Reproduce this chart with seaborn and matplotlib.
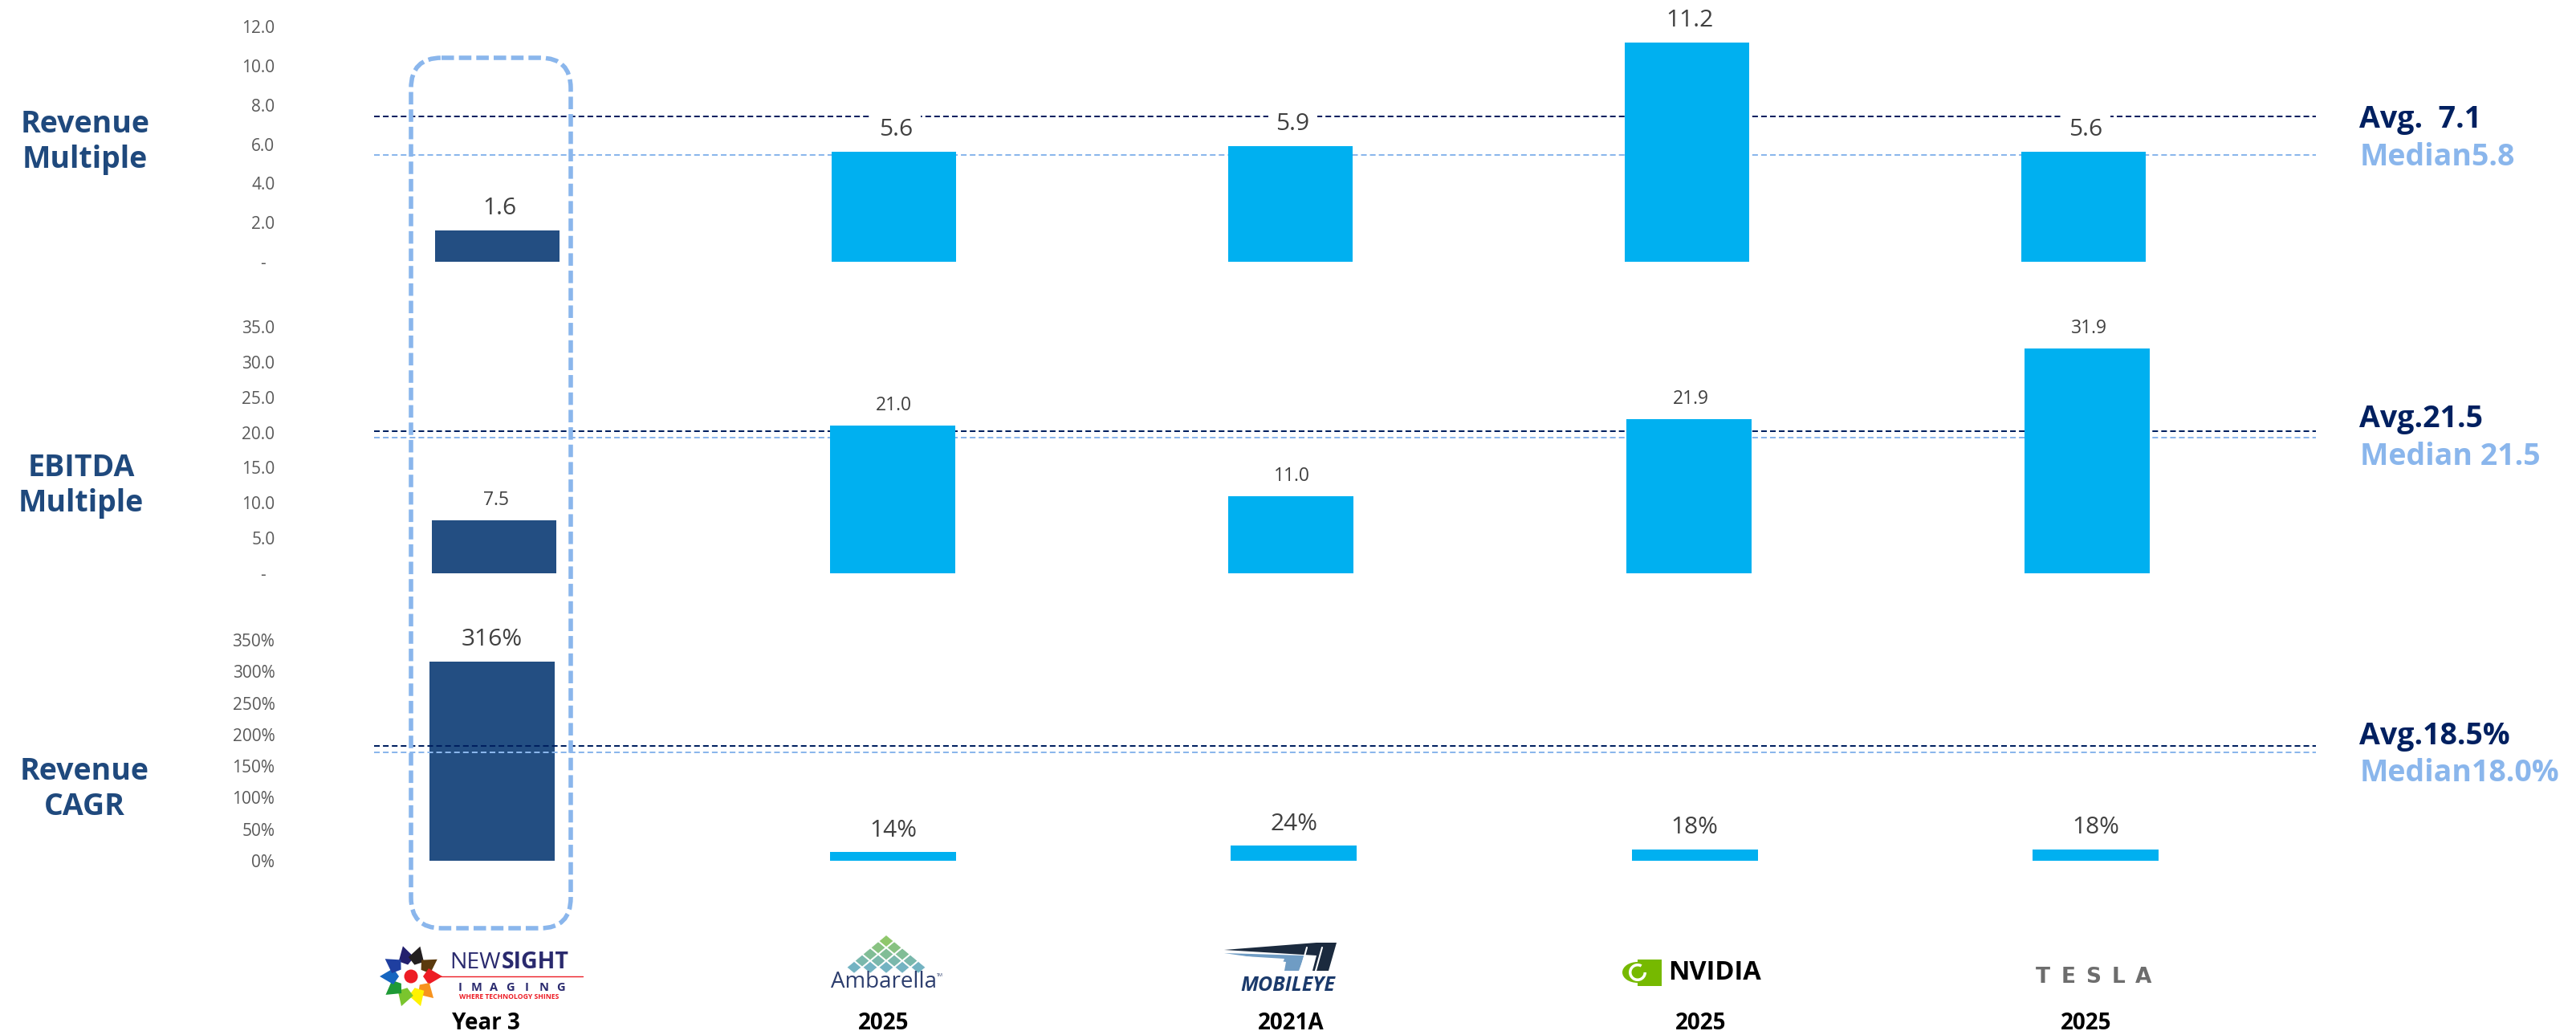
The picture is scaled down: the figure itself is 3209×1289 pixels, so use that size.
# comparables: multiples and growth, three stacked bar panels
import numpy as np
import pandas as pd
import matplotlib
matplotlib.use("Agg")
import matplotlib.pyplot as plt
from matplotlib.patches import FancyBboxPatch, Polygon, Circle, Ellipse, Wedge
import seaborn as sns

companies = ["Newsight", "Ambarella", "Mobileye", "NVIDIA", "Tesla"]
years = ["Year 3", "2025", "2021A", "2025", "2025"]

rev_multiple = [1.6, 5.6, 5.9, 11.2, 5.6]
ebitda_multiple = [7.5, 21.0, 11.0, 21.9, 31.9]
rev_cagr = [316, 14, 24, 18, 18]

rev_ticks = [0, 2, 4, 6, 8, 10, 12]
ebitda_ticks = [0, 5, 10, 15, 20, 25, 30, 35]
cagr_ticks = [0, 50, 100, 150, 200, 250, 300, 350]

# where the dashed lines sit on each axis
avg_lines = [7.4, 20.2, 182]
median_lines = [5.46, 19.3, 172]

row_names = ["Revenue\nMultiple", "EBITDA\nMultiple", "Revenue\nCAGR"]
avg_text = ["Avg.  7.1", "Avg.21.5", "Avg.18.5%"]
median_text = ["Median5.8", "Median 21.5", "Median18.0%"]

DARK = "#234E82"
BRIGHT = "#00B0F0"
NAVY = "#002060"
LIGHT = "#8AB6EC"
W, H = 3209, 1289
PT = 0.72  # px to pt at dpi 100

sns.set_theme(style="white")
plt.rcParams["font.family"] = ["Open Sans", "DejaVu Sans"]

fig = plt.figure(figsize=(W / 100, H / 100), dpi=100, facecolor="white")


def panel(values, ticks, ticklabels, labels, top, base, c0, step, line_i,
          lab_size, lab_off, lab_dx, lines_on_top=False, gap=()):
    L, R = 466, 2885
    ax = fig.add_axes([L / W, 1 - base / H, (R - L) / W, (base - top) / H])
    ax.patch.set_alpha(0)
    df = pd.DataFrame({"company": companies, "value": values})
    sns.barplot(data=df, x="company", y="value", hue="company", ax=ax,
                palette=[DARK] + [BRIGHT] * 4, width=0.314, saturation=1,
                linewidth=0, legend=False, dodge=False)
    # bars above the white label boxes, so a box never bites into a bar
    for p in ax.patches:
        p.set_zorder(5)
    ax.set_xlim((L - c0) / step, (R - c0) / step)
    ax.set_ylim(0, ticks[-1])
    ax.set_xlabel("")
    ax.set_ylabel("")
    ax.set_xticks([])
    ax.set_yticks(ticks)
    ax.set_yticklabels(ticklabels, fontsize=15, color="#595959")
    ax.tick_params(axis="y", length=0, pad=89)
    sns.despine(ax=ax, left=True, bottom=True)
    z = 6 if lines_on_top else 0.5
    ax.axhline(avg_lines[line_i], color=NAVY, lw=1.45, dashes=(3.5, 2), zorder=z)
    ax.axhline(median_lines[line_i], color=LIGHT, lw=1.45, dashes=(3.5, 2), zorder=z)
    for i, (v, s) in enumerate(zip(values, labels)):
        box = None
        if i in gap:
            box = dict(facecolor="white", edgecolor="none", pad=7)
        ax.annotate(s, (i, v), xytext=(lab_dx * PT, lab_off * PT),
                    textcoords="offset points", ha="center", va="center",
                    fontsize=lab_size, color="#404040", annotation_clip=False,
                    bbox=box, zorder=4)
    return ax


panel(rev_multiple, rev_ticks, ["-  "] + [f"{t:.1f}" for t in rev_ticks[1:]],
      [f"{v:.1f}" for v in rev_multiple], 33, 326, 619.5, 494, 0, 21.5, 27.5, 3,
      gap=(1, 2, 4))
panel(ebitda_multiple, ebitda_ticks, ["-  "] + [f"{t:.1f}" for t in ebitda_ticks[1:]],
      [f"{v:.1f}" for v in ebitda_multiple], 407, 714, 615.5, 496.2, 1, 16.5, 25, 2)
panel(rev_cagr, cagr_ticks, [f"{t}%" for t in cagr_ticks],
      [f"{v}%" for v in rev_cagr], 797, 1072, 613, 499.4, 2, 21.5, 27, 0,
      lines_on_top=True)

# overlay in picture pixels for the side text, the highlight box and the logos
ov = fig.add_axes([0, 0, 1, 1])
ov.set_xlim(0, W)
ov.set_ylim(H, 0)
ov.axis("off")

ov.add_patch(FancyBboxPatch((512, 72), 199, 1084, boxstyle="round,pad=0,rounding_size=38",
                            fill=False, edgecolor=LIGHT, lw=4,
                            linestyle=(0, (2.8, 1.1))))

for name, x, y in zip(row_names, [106, 101, 105], [177, 605, 983]):
    ov.text(x, y, name, ha="center", va="center", fontsize=27, fontweight="bold",
            color="#1F497D", linespacing=1.22)

for a, m, ya, ym in zip(avg_text, median_text, [149, 522, 917], [196, 569, 963]):
    ov.text(2939, ya, a, va="center", fontsize=27, fontweight="bold", color=NAVY)
    ov.text(2940, ym, m, va="center", fontsize=27, fontweight="bold", color=LIGHT)

for y, x in zip(years, [605, 1101, 1608, 2119, 2599]):
    ov.text(x, 1275, y, ha="center", va="center", fontsize=20, fontweight="bold", color="black")


def spaced(s, x0, x1, y, **kw):
    for ch, x in zip(s, np.linspace(x0, x1, len(s))):
        if ch != " ":
            ov.text(x, y, ch, ha="center", va="center", **kw)


# Newsight logo
sun_angles = [-105, -73, -33, 0, 44, 72, 108, 144, 180, 214]
sun_colors = ["#23206E", "#231F20", "#5B3A0E", "#ED1C24", "#F7931E",
              "#FFF200", "#7AC52E", "#1E9A35", "#1565C0", "#1F3FA0"]
for a, col in zip(sun_angles, sun_colors):
    t = np.deg2rad(a)
    d = np.array([np.cos(t), np.sin(t)])
    n = np.array([-d[1], d[0]])
    c = np.array([512, 1216])
    ov.add_patch(Polygon([c + 15 * d, c + 22 * d + 10 * n, c + 39 * d, c + 22 * d - 10 * n],
                         facecolor=col, edgecolor="none"))
ov.add_patch(Circle((512, 1216), 8.5, facecolor="#ED1C24", edgecolor="none"))
ov.text(560, 1199, "NEW", va="center", fontsize=20.5, color="#2A2A6E")
ov.text(625, 1199, "SIGHT", va="center", fontsize=20.5, fontweight="bold", color="#2A2A6E")
ov.plot([548, 726], [1216, 1216], color="#ED1C24", lw=1)
spaced("IMAGING", 573, 698, 1230, fontsize=10.5, fontweight="bold", color="#2A2A6E")
ov.text(634, 1242, "WHERE TECHNOLOGY SHINES", ha="center", va="center", fontsize=6.2,
        fontweight="bold", color="#ED1C24")

# Ambarella logo
for r in range(5):
    for k in range(r + 1):
        cx = 1104 + (k - r / 2) * 20
        cy = 1172 + r * 8.2
        frac = r / 4
        col = (np.array([0.56, 0.78, 0.42]) * (1 - frac) + np.array([0.45, 0.70, 0.76]) * frac)
        ov.add_patch(Polygon([(cx, cy - 7.5), (cx + 9, cy), (cx, cy + 7.5), (cx - 9, cy)],
                             facecolor=col, edgecolor="white", lw=0.6))
ov.text(1101, 1223, "Ambarella", ha="center", va="center", fontsize=20, color="#2D3E6E")
ov.text(1171, 1214, "TM", ha="center", va="center", fontsize=4, color="#2D3E6E")

# Mobileye logo
ov.add_patch(Polygon([(1525, 1183), (1640, 1174), (1665, 1174), (1655, 1209), (1635, 1209), (1640, 1190)],
                     facecolor="#1B2A3E", edgecolor="none"))
ov.add_patch(Polygon([(1525, 1187), (1625, 1190), (1618, 1209), (1600, 1209), (1602, 1198)],
                     facecolor="#6F9CC4", edgecolor="none"))
ov.add_patch(Polygon([(1535, 1190), (1600, 1194), (1598, 1199)], facecolor="white", edgecolor="none"))
ov.plot([1628, 1620], [1180, 1209], color="white", lw=1.5)
ov.plot([1647, 1639], [1180, 1209], color="white", lw=1.5)
ov.text(1604, 1228, "MOBILEYE", ha="center", va="center", fontsize=18, fontweight="bold",
        fontstyle="italic", color="#1B3A6B")

# NVIDIA logo
ov.add_patch(Polygon([(2040, 1195), (2070, 1195), (2070, 1228), (2040, 1228)], facecolor="#76B900", edgecolor="none"))
ov.add_patch(Ellipse((2040, 1211), 38, 26, facecolor="#76B900", edgecolor="none"))
ov.add_patch(Wedge((2040, 1211), 11, 0, 300, width=3.5, facecolor="white", edgecolor="none"))
ov.text(2078, 1212, "NVIDIA", va="center", fontsize=23.5, fontweight="bold", color="black")

# Tesla logo
spaced("TESLA", 2545, 2670, 1217, fontsize=19, fontweight="bold", color="#6D6D6D",
       family="DejaVu Sans")

fig.savefig("out.png", dpi=100, facecolor="white")
